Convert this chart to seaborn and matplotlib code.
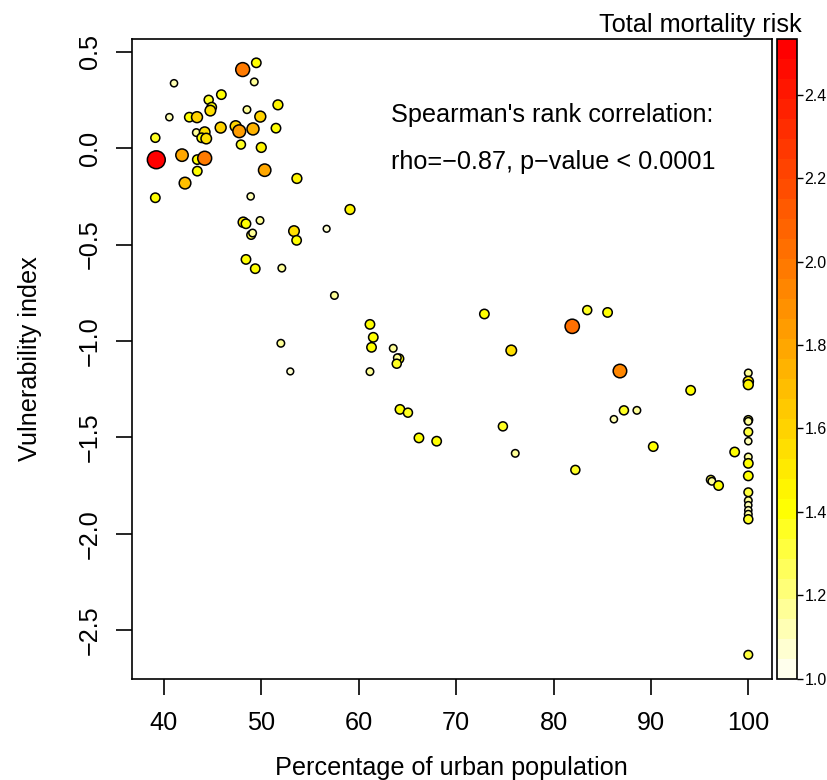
import numpy as np
import pandas as pd
import matplotlib
matplotlib.use("Agg")
import matplotlib.pyplot as plt
from matplotlib.colors import LinearSegmentedColormap, ListedColormap, Normalize
import seaborn as sns

# ---------------- data ----------------
urban = [48.08, 49.48, 41.03, 49.27, 45.89, 44.59, 44.90, 44.76, 51.70, 48.52,
         40.55, 42.60, 43.39, 49.89, 39.11, 43.32, 44.18, 43.87, 44.34, 45.82,
         47.36, 47.73, 49.14, 51.50, 47.90, 49.99, 39.21, 41.85, 43.42, 44.18,
         43.42, 42.16, 50.34, 53.65, 39.11, 48.90, 56.70, 53.35, 53.62, 48.14,
         48.42, 49.86, 48.95, 49.10, 48.42, 49.37, 52.10, 59.10, 57.50, 52.00,
         52.97, 61.15, 61.49, 61.31, 61.15, 63.54, 64.13, 63.96, 63.90, 64.23,
         65.05, 66.18, 68.00, 72.90, 75.66, 74.80, 76.07, 81.92, 83.46, 85.55,
         86.82, 87.23, 88.56, 86.20, 82.24, 94.08, 90.24, 98.60, 96.15, 96.26,
         96.95,
         100, 100, 100, 100, 100, 100, 100, 100, 100, 100, 100, 100, 100, 100,
         100, 100, 100]
vulnerability = [0.408, 0.443, 0.337, 0.344, 0.278, 0.251, 0.213, 0.195, 0.225, 0.200,
                 0.161, 0.161, 0.161, 0.164, 0.054, 0.081, 0.083, 0.054, 0.050, 0.107,
                 0.114, 0.088, 0.100, 0.104, 0.019, 0.004, -0.060, -0.036, -0.059, -0.052,
                 -0.119, -0.181, -0.114, -0.157, -0.257, -0.250, -0.418, -0.430, -0.478, -0.384,
                 -0.392, -0.375, -0.450, -0.440, -0.577, -0.625, -0.622, -0.318, -0.764, -1.012,
                 -1.158, -0.914, -0.981, -1.033, -1.159, -1.038, -1.092, -1.087, -1.118, -1.355,
                 -1.372, -1.503, -1.520, -0.860, -1.049, -1.443, -1.583, -0.924, -0.840, -0.852,
                 -1.156, -1.360, -1.360, -1.406, -1.669, -1.256, -1.548, -1.576, -1.720, -1.728,
                 -1.750,
                 -1.166, -1.210, -1.227, -1.410, -1.417, -1.472, -1.520, -1.602, -1.635, -1.700,
                 -1.785, -1.828, -1.852, -1.878, -1.899, -1.925, -2.628]
mortality_risk = [2.00, 1.40, 1.10, 1.15, 1.40, 1.35, 1.40, 1.55, 1.45, 1.15,
                  1.10, 1.40, 1.60, 1.60, 1.35, 1.15, 1.55, 1.40, 1.55, 1.60,
                  1.60, 1.85, 1.75, 1.40, 1.35, 1.45, 2.53, 1.80, 1.40, 2.00,
                  1.40, 1.70, 1.80, 1.45, 1.40, 1.10, 1.05, 1.55, 1.40, 1.50,
                  1.40, 1.15, 1.30, 1.15, 1.40, 1.40, 1.15, 1.45, 1.15, 1.15,
                  1.05, 1.40, 1.40, 1.40, 1.15, 1.15, 1.40, 1.15, 1.35, 1.40,
                  1.35, 1.40, 1.40, 1.40, 1.55, 1.35, 1.15, 2.05, 1.35, 1.40,
                  1.95, 1.35, 1.15, 1.10, 1.35, 1.40, 1.40, 1.40, 1.30, 1.15,
                  1.40,
                  1.15, 1.50, 1.45, 1.30, 1.15, 1.30, 1.10, 1.15, 1.40, 1.40,
                  1.30, 1.15, 1.10, 1.10, 1.15, 1.35, 1.30]

x_ticks = [40, 50, 60, 70, 80, 90, 100]
y_ticks = [-2.5, -2.0, -1.5, -1.0, -0.5, 0.0, 0.5]
cbar_ticks = [1.0, 1.2, 1.4, 1.6, 1.8, 2.0, 2.2, 2.4]
risk_range = (1.0, 2.535)

df = pd.DataFrame({"urban": urban, "vuln": vulnerability, "risk": mortality_risk})

# ---------------- style ----------------
sns.set_style("white")
plt.rcParams["font.family"] = ["Liberation Sans", "DejaVu Sans"]
plt.rcParams.update({"text.color": "black", "axes.labelcolor": "black",
                     "xtick.color": "black", "ytick.color": "black"})

FS = 18.2
lo, hi = risk_range
def pos(v):
    return (v - lo) / (hi - lo)
base = LinearSegmentedColormap.from_list(
    "risk",
    [(0.0, (1.0, 1.0, 0.93)), (pos(1.4), (1.0, 1.0, 0.0)),
     (pos(1.8), (1.0, 0.65, 0.0)), (1.0, (1.0, 0.0, 0.0))])
cmap = ListedColormap(base(np.linspace(0, 1, 32)))
norm = Normalize(vmin=lo, vmax=hi)

fig = plt.figure(figsize=(8.27, 7.80), dpi=100)
ax = fig.add_axes([0.1592, 0.1299, 0.7739, 0.8207])
cax = fig.add_axes([0.9392, 0.1299, 0.0249, 0.8207])

sizes = (5.4 * df["risk"].to_numpy() - 0.8) ** 2
sns.scatterplot(data=df, x="urban", y="vuln", hue="risk", hue_norm=norm,
                palette=cmap, s=sizes, edgecolor="black", linewidth=1.1,
                legend=False, ax=ax, zorder=3)

ax.set_xlim(36.68, 102.4)
ax.set_ylim(-2.752, 0.569)
ax.set_xticks(x_ticks)
ax.set_yticks(y_ticks)
ax.set_xticklabels([str(t) for t in x_ticks])
ax.set_yticklabels([f"{t:.1f}".replace("-", "\u2212") for t in y_ticks],
                   rotation=90, va="center")
ax.tick_params(axis="both", direction="out", length=11.5, width=1.2,
               labelsize=FS, colors="black", bottom=True, left=True,
               top=False, right=False)
ax.tick_params(axis="x", pad=12)
ax.tick_params(axis="y", pad=10)
for sp in ax.spines.values():
    sp.set_visible(True)
    sp.set_linewidth(1.2)
    sp.set_color("black")

ax.set_xlabel("Percentage of urban population", fontsize=FS, labelpad=15)
ax.set_ylabel("Vulnerability index", fontsize=FS, labelpad=26)

ax.text(63.3, 0.135, "Spearman's rank correlation:", fontsize=FS,
        ha="left", va="baseline")
ax.text(63.3, -0.107, "rho=\u22120.87, p\u2212value < 0.0001", fontsize=FS,
        ha="left", va="baseline")

sm = plt.cm.ScalarMappable(norm=norm, cmap=cmap)
cb = fig.colorbar(sm, cax=cax)
cb.set_ticks(cbar_ticks)
cb.set_ticklabels([f"{t:.1f}" for t in cbar_ticks])
cb.ax.tick_params(axis="y", right=True, left=False, labelsize=11.5, length=4,
                  width=1, pad=1, direction="out", colors="black")
cb.outline.set_linewidth(1.2)
cb.outline.set_edgecolor("black")

fig.text(0.847, 1 - 32 / 780, "Total mortality risk", fontsize=FS,
         ha="center", va="baseline")

fig.savefig("out.png", dpi=100, facecolor="white")
